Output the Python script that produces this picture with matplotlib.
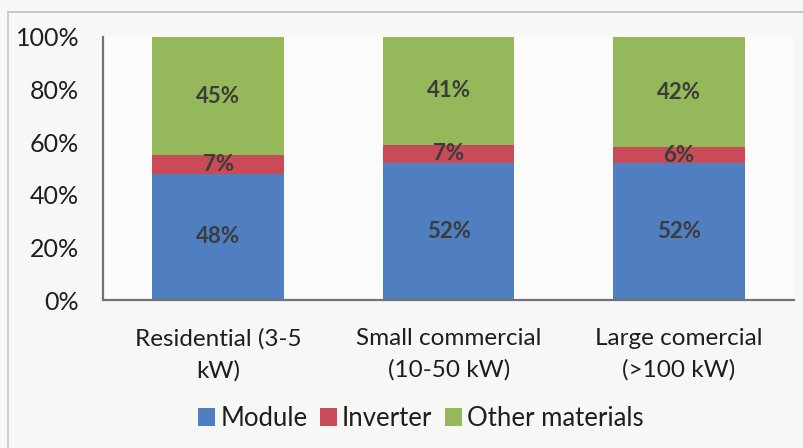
import matplotlib.pyplot as plt
import numpy as np
from matplotlib.lines import Line2D

plt.rcParams['font.family'] = ['Lato', 'DejaVu Sans']

categories = ['Residential (3-5\nkW)', 'Small commercial\n(10-50 kW)', 'Large comercial\n(>100 kW)']
series_names = ['Module', 'Inverter', 'Other materials']
module = [48, 52, 52]
inverter = [7, 7, 6]
other = [45, 41, 42]
colors = ['#4f7fc0', '#c94b57', '#95b95a']

fig = plt.figure(figsize=(8.04, 4.48), dpi=100)
fig.patch.set_facecolor('#f7f7f5')
ax = fig.add_axes([0.128, 0.33, 0.86, 0.588])
ax.set_facecolor('#fbfbfa')

# thin grey frame on the top and left edges
fig.lines.append(Line2D([0.01, 1.0], [0.973, 0.973], transform=fig.transFigure,
                        color='#bdbdbd', linewidth=1.2))
fig.lines.append(Line2D([0.01, 0.01], [0.0, 0.973], transform=fig.transFigure,
                        color='#c8c8c8', linewidth=1.2))

x = np.arange(len(categories))
width = 0.57
bottom = np.zeros(len(categories))
for name, vals, col in zip(series_names, [module, inverter, other], colors):
    vals = np.array(vals, dtype=float)
    ax.bar(x, vals, width, bottom=bottom, color=col, label=name)
    for xi, b, v in zip(x, bottom, vals):
        ax.text(xi, b + v / 2, f'{v:.0f}%', ha='center', va='center',
                fontsize=16, fontweight='bold', color='#3c3c3c')
    bottom += vals

ax.set_xlim(-0.5, 2.5)
ax.set_ylim(0, 100)
ax.set_yticks(np.arange(0, 101, 20))
ax.set_yticklabels([f'{t}%' for t in range(0, 101, 20)])
ax.set_xticks(x)
ax.set_xticklabels(categories, linespacing=1.6)
ax.tick_params(axis='y', length=0, labelsize=18, pad=17, colors='#1e1e1e')
ax.tick_params(axis='x', length=0, labelsize=17.5, pad=20, colors='#1e1e1e')
for s in ['top', 'right']:
    ax.spines[s].set_visible(False)
for s in ['left', 'bottom']:
    ax.spines[s].set_color('#707478')
    ax.spines[s].set_linewidth(1.6)

ax.legend(loc='upper center', bbox_to_anchor=(0.46, -0.315), ncol=3, frameon=False,
          fontsize=18.5, handlelength=0.65, handleheight=0.7, handletextpad=0.2,
          columnspacing=0.5, labelcolor='#1e1e1e')

fig.savefig('out.png', dpi=100, facecolor=fig.get_facecolor())
